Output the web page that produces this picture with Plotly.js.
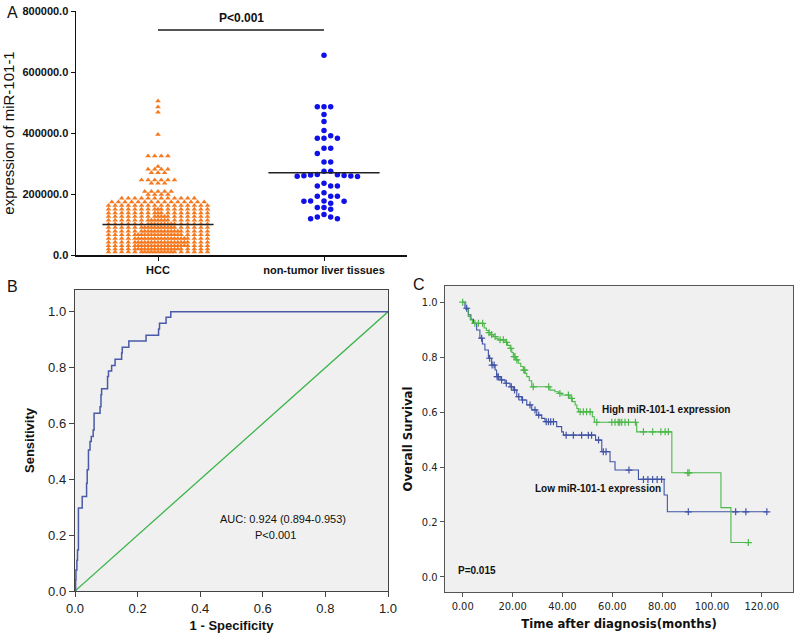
<!DOCTYPE html>
<html><head><meta charset="utf-8">
<script src="https://cdn.plot.ly/plotly-3.0.1.min.js"></script>
<style>html,body{margin:0;padding:0;background:#fff;} #chart{width:800px;height:637px;}</style>
</head><body><div id="chart"></div>
<script>
// ---------------- Panel A data ----------------
const groupLabels = ['HCC', 'non-tumor liver tissues'];
// HCC values shown as horizontal rows of the dot plot: row level and number of dots in it
const hccRowValues = [505000, 485000, 468000, 395000, 325000, 290000, 281000, 270000, 246000, 235000, 208000, 198000,
  186000, 174000, 162000, 150000, 138000, 126000, 114000, 102000, 90000, 78000, 66000, 54000, 42000, 30000, 20000, 10000];
const hccRowCounts = [1, 1, 1, 1, 4, 1, 4, 3, 6, 3, 5, 4,
  12, 15, 16, 17, 17, 18, 19, 20, 21, 22, 23, 24, 24, 24, 23, 21];
const normalValues = [655000, 486000, 486000, 486000, 461000, 438000, 408000, 391000, 383000, 383000, 383000,
  350000, 350000, 333000, 305000, 305000, 275000, 275000, 264000, 263000, 262000, 261000, 260000, 259000, 258000, 257000,
  235000, 226000, 226000, 226000, 204000, 193000, 193000, 193000, 177000, 177000, 176000, 176000, 170000,
  156000, 156000, 150000, 133000, 125000, 125000, 119000, 119000];
const hccMedian = 100000;
const normalMedian = 270000;
const pText = 'P<0.001';

// ---------------- Panel B data ----------------
const rocFpr = [0, 0.002, 0.003, 0.006, 0.008, 0.011, 0.023, 0.037, 0.039, 0.043, 0.048, 0.052, 0.058, 0.061, 0.080, 0.083,
  0.085, 0.104, 0.107, 0.117, 0.128, 0.149, 0.151, 0.172, 0.227, 0.267, 0.270, 0.291, 0.306, 1.0];
const rocTpr = [0, 0.04, 0.075, 0.11, 0.147, 0.297, 0.338, 0.386, 0.434, 0.505, 0.535, 0.553, 0.577, 0.637, 0.660, 0.703,
  0.724, 0.768, 0.788, 0.808, 0.830, 0.852, 0.873, 0.895, 0.916, 0.938, 0.959, 0.980, 1.0, 1.0];
const refLine = [0, 1];
const aucText = 'AUC: 0.924 (0.894-0.953)';
const rocPText = 'P<0.001';

// ---------------- Panel C data ----------------
const highTimes = [0, 1.2, 2.2, 3.0, 3.9, 8.6, 9.5, 10.3, 11.3, 12.3, 13.3, 14.3, 17.0, 18.0, 19.0, 19.7, 20.3, 21.3, 22.3, 23.3,
  24.3, 25.0, 25.7, 26.7, 27.7, 35.0, 37.0, 38.5, 39.7, 43.0, 44.0, 45.1, 45.8, 46.4, 52.0, 52.8, 69.8, 83.9, 103.6, 107.6, 114.6];
const highSurv = [1.0, .974, .948, .935, .923, .906, .897, .889, .882, .875, .869, .863, .854, .843, .832, .817, .802, .790, .778, .766,
  .753, .741, .729, .714, .692, .680, .674, .668, .662, .650, .638, .626, .613, .601, .583, .563, .528, .379, .252, .125, .125];
const highCensor = [0, 4.9, 6.3, 8.0, 10.6, 11.6, 13.0, 15.0, 16.3, 17.6, 19.3, 20.6, 21.0, 21.7, 24.5, 24.9, 28.3, 34.5, 39.0,
  42.4, 43.7, 47.1, 48.4, 49.7, 51.1, 53.8, 59.8, 61.1, 62.4, 63.0, 63.8, 65.1, 66.5, 69.3, 72.5, 76.2, 79.5, 81.2, 82.5, 90.3, 90.8, 114.6];
const lowTimes = [0, 0.9, 2.3, 3.3, 4.3, 5.6, 6.9, 7.9, 8.9, 10.3, 11.6, 13.0, 13.6, 15.0, 17.0, 19.0, 20.3, 21.7, 23.7, 25.7,
  27.7, 29.7, 31.7, 33.0, 37.7, 39.7, 40.4, 53.3, 55.8, 59.1, 61.1, 70.5, 80.8, 82.1, 122.0];
const lowSurv = [1.0, .978, .954, .938, .923, .899, .869, .848, .826, .796, .771, .753, .729, .717, .705, .692, .680, .656, .644, .626,
  .608, .589, .577, .565, .547, .528, .516, .498, .456, .419, .389, .355, .298, .237, .237];
const lowCensor = [1.6, 7.6, 10.8, 11.8, 12.6, 13.8, 14.3, 15.6, 17.5, 19.5, 20.8, 22.5, 24.0, 27.0, 29.0, 30.5, 33.5, 34.4, 35.3,
  36.4, 41.5, 44.4, 47.7, 50.4, 51.7, 54.5, 56.4, 57.5, 66.7, 72.5, 74.3, 76.2, 78.0, 79.8, 90.5, 109.5, 113.6, 122.0];
const highLabel = 'High miR-101-1 expression';
const lowLabel = 'Low miR-101-1 expression';
const kmPText = 'P=0.015';
const kmXTicks = [0, 20, 40, 60, 80, 100, 120];

// ---------------- geometry ----------------
const W = 800, H = 637;
const FONT = 'Arial, "Liberation Sans", sans-serif';
const NARROW = '"Liberation Sans Narrow", "Arial Narrow", "DejaVu Sans Condensed", Arial, sans-serif';
const boxA = {l: 76, r: 407, t: 11, b: 255};
const boxB = {l: 75, r: 388, t: 290, b: 591};
const boxC = {l: 445, r: 793, t: 286, b: 592};
const dom = (b) => ({x: [b.l / W, b.r / W], y: [1 - b.b / H, 1 - b.t / H]});
const xRangeA = [-0.494, 1.5], yRangeA = [0, 800000];
const pxPerXA = (boxA.r - boxA.l) / (xRangeA[1] - xRangeA[0]);
const pxPerYA = (boxA.b - boxA.t) / (yRangeA[1] - yRangeA[0]);

// HCC rows laid out Prism-style
const hx = [], hy = [];
const cap = 16, sp = 6.6;
hccRowValues.forEach((v, r) => {
  const n = hccRowCounts[r];
  const first = Math.min(n, cap);
  for (let i = 0; i < first; i++) { hx.push(0 + (i - (first - 1) / 2) * sp / pxPerXA); hy.push(v); }
  const m = n - first;
  for (let j = 0; j < m; j++) {
    const shift = (m % 2) === (first % 2) ? sp / 2 : 0;
    hx.push(0 + ((j - (m - 1) / 2) * sp + shift) / pxPerXA); hy.push(v);
  }
});
// non-tumor: simple beeswarm
const nx = [], ny = [];
const placed = [];
const step = 6.7, minD = 6.0;
normalValues.slice().sort((a, b) => b - a).forEach(v => {
  const py = v * pxPerYA;
  let off = 0;
  for (let t = 0; t < 60; t++) {
    const cand = t === 0 ? 0 : (t % 2 ? 1 : -1) * Math.ceil(t / 2) * step;
    if (placed.every(p => Math.hypot(p[0] - cand, p[1] - py) >= minD)) { off = cand; break; }
  }
  placed.push([off, py]);
  nx.push(1 + off / pxPerXA); ny.push(v);
});

function survAt(times, surv, t) {
  let s = surv[0];
  for (let i = 0; i < times.length; i++) { if (times[i] <= t) s = surv[i]; else break; }
  return s;
}

const ORANGE = '#f5791f', BLUE = '#1010e8';
const KMGREEN = '#4cb84a', KMBLUE = '#4153a6';
const medHalf = 0.335;

const traces = [
  {x: hx, y: hy, type: 'scatter', mode: 'markers', xaxis: 'x', yaxis: 'y',
   marker: {symbol: 'triangle-up', size: 5, color: ORANGE}},
  {x: nx, y: ny, type: 'scatter', mode: 'markers', xaxis: 'x', yaxis: 'y',
   marker: {symbol: 'circle', size: 5.5, color: BLUE}},
  {x: [0 - medHalf, 0 + medHalf], y: [hccMedian, hccMedian], type: 'scatter', mode: 'lines', xaxis: 'x', yaxis: 'y',
   line: {color: '#222', width: 1.5}},
  {x: [1 - medHalf, 1 + medHalf], y: [normalMedian, normalMedian], type: 'scatter', mode: 'lines', xaxis: 'x', yaxis: 'y',
   line: {color: '#222', width: 1.5}},
  // ROC
  {x: refLine, y: refLine, type: 'scatter', mode: 'lines', xaxis: 'x2', yaxis: 'y2', line: {color: '#3cb44b', width: 1.3}},
  {x: rocFpr, y: rocTpr, type: 'scatter', mode: 'lines', xaxis: 'x2', yaxis: 'y2', line: {color: '#4a5aa8', width: 1.5, shape: 'hv'}},
  // KM
  {x: lowTimes, y: lowSurv, type: 'scatter', mode: 'lines', xaxis: 'x3', yaxis: 'y3', line: {color: KMBLUE, width: 1.1, shape: 'hv'}},
  {x: highTimes, y: highSurv, type: 'scatter', mode: 'lines', xaxis: 'x3', yaxis: 'y3', line: {color: KMGREEN, width: 1.1, shape: 'hv'}},
  {x: lowCensor, y: lowCensor.map(t => survAt(lowTimes, lowSurv, t)), type: 'scatter', mode: 'markers', xaxis: 'x3', yaxis: 'y3',
   marker: {symbol: 'cross-thin', size: 5, line: {color: KMBLUE, width: 1.2}}},
  {x: highCensor, y: highCensor.map(t => survAt(highTimes, highSurv, t)), type: 'scatter', mode: 'markers', xaxis: 'x3', yaxis: 'y3',
   marker: {symbol: 'cross-thin', size: 5, line: {color: KMGREEN, width: 1.2}}}
];

const dA = dom(boxA), dB = dom(boxB), dC = dom(boxC);
const baseAxis = {showgrid: false, zeroline: false, showline: true, ticks: 'outside', automargin: false, fixedrange: true};

const layout = {
  width: W, height: H, margin: {l: 0, r: 0, t: 0, b: 0},
  paper_bgcolor: '#fff', plot_bgcolor: 'rgba(0,0,0,0)', showlegend: false,
  font: {family: FONT, color: '#111'},
  xaxis: Object.assign({}, baseAxis, {domain: dA.x, anchor: 'y', range: xRangeA, tickvals: [0, 1], ticktext: groupLabels,
    linecolor: '#111', linewidth: 1.5, ticklen: 4, tickcolor: '#111',
    tickfont: {family: FONT, size: 11, weight: 'bold', color: '#111'}}),
  yaxis: Object.assign({}, baseAxis, {domain: dA.y, anchor: 'x', range: yRangeA, dtick: 200000, tickformat: '.1f',
    linecolor: '#111', linewidth: 1.5, ticklen: 4, tickcolor: '#111',
    tickfont: {family: FONT, size: 11, weight: 'bold', color: '#111'},
    title: {text: 'expression of miR-101-1', font: {family: FONT, size: 15, color: '#111'}, standoff: 4}}),
  xaxis2: Object.assign({}, baseAxis, {domain: dB.x, anchor: 'y2', range: [0, 1], dtick: 0.2, tickformat: '.1f', mirror: true,
    linecolor: '#444', linewidth: 1.2, ticklen: 5, tickcolor: '#444',
    tickfont: {family: FONT, size: 13, color: '#222'},
    title: {text: '1 - Specificity', font: {family: FONT, size: 13, weight: 'bold', color: '#111'}, standoff: 6}}),
  yaxis2: Object.assign({}, baseAxis, {domain: dB.y, anchor: 'x2', range: [0, 1.078], tickvals: [0, 0.2, 0.4, 0.6, 0.8, 1.0], tickformat: '.1f', mirror: true,
    linecolor: '#444', linewidth: 1.2, ticklen: 5, tickcolor: '#444',
    tickfont: {family: FONT, size: 13, color: '#222'},
    title: {text: 'Sensitivity', font: {family: FONT, size: 13, weight: 'bold', color: '#111'}, standoff: 10}}),
  xaxis3: Object.assign({}, baseAxis, {domain: dC.x, anchor: 'y3', range: [-7.1, 132.5], tickvals: kmXTicks, tickformat: '.2f', mirror: true,
    linecolor: '#555', linewidth: 1.2, ticklen: 4, tickcolor: '#555',
    tickfont: {family: NARROW, size: 11, color: '#222'},
    title: {text: 'Time after diagnosis(months)', font: {family: NARROW, size: 13, weight: 'bold', color: '#111'}, standoff: 6}}),
  yaxis3: Object.assign({}, baseAxis, {domain: dC.y, anchor: 'x3', range: [-0.055, 1.059], tickvals: [0, 0.2, 0.4, 0.6, 0.8, 1.0], tickformat: '.1f', mirror: true,
    linecolor: '#555', linewidth: 1.2, ticklen: 4, tickcolor: '#555',
    tickfont: {family: NARROW, size: 11, color: '#222'},
    title: {text: 'Overall Survival', font: {family: NARROW, size: 13, weight: 'bold', color: '#111'}, standoff: 6}}),
  shapes: [
    {type: 'rect', xref: 'x2 domain', yref: 'y2 domain', x0: 0, x1: 1, y0: 0, y1: 1, fillcolor: '#f0f0f0', line: {width: 0}, layer: 'below'},
    {type: 'rect', xref: 'x3 domain', yref: 'y3 domain', x0: 0, x1: 1, y0: 0, y1: 1, fillcolor: '#f0f0f0', line: {width: 0}, layer: 'below'},
    {type: 'line', xref: 'x', yref: 'y', x0: 0, x1: 1, y0: 738000, y1: 738000, line: {color: '#555', width: 2}}
  ],
  annotations: [
    {text: 'A', xref: 'paper', yref: 'paper', x: 5 / W, y: 1 - 12 / H, xanchor: 'left', yanchor: 'middle', showarrow: false, font: {family: FONT, size: 16, color: '#111'}},
    {text: 'B', xref: 'paper', yref: 'paper', x: 5 / W, y: 1 - 286 / H, xanchor: 'left', yanchor: 'middle', showarrow: false, font: {family: FONT, size: 16, color: '#111'}},
    {text: 'C', xref: 'paper', yref: 'paper', x: 411 / W, y: 1 - 285 / H, xanchor: 'left', yanchor: 'middle', showarrow: false, font: {family: FONT, size: 16, color: '#111'}},
    {text: pText, xref: 'x', yref: 'y', x: 0.5, y: 777000, showarrow: false, font: {family: FONT, size: 12, weight: 'bold', color: '#111'}},
    {text: aucText, xref: 'x2', yref: 'y2', x: 0.666, y: 0.258, showarrow: false, font: {family: FONT, size: 11, color: '#111'}},
    {text: rocPText, xref: 'x2', yref: 'y2', x: 0.64, y: 0.2, showarrow: false, font: {family: FONT, size: 11, color: '#111'}},
    {text: highLabel, xref: 'x3', yref: 'y3', x: 55.1, y: 0.611, xanchor: 'left', showarrow: false, font: {family: FONT, size: 10, weight: 'bold', color: '#111'}},
    {text: lowLabel, xref: 'x3', yref: 'y3', x: 28.2, y: 0.323, xanchor: 'left', showarrow: false, font: {family: FONT, size: 10, weight: 'bold', color: '#111'}},
    {text: kmPText, xref: 'x3', yref: 'y3', x: -2.7, y: 0.024, xanchor: 'left', showarrow: false, font: {family: FONT, size: 10, weight: 'bold', color: '#111'}}
  ]
};

Plotly.newPlot('chart', traces, layout, {staticPlot: true, displayModeBar: false});
</script>
</body></html>
